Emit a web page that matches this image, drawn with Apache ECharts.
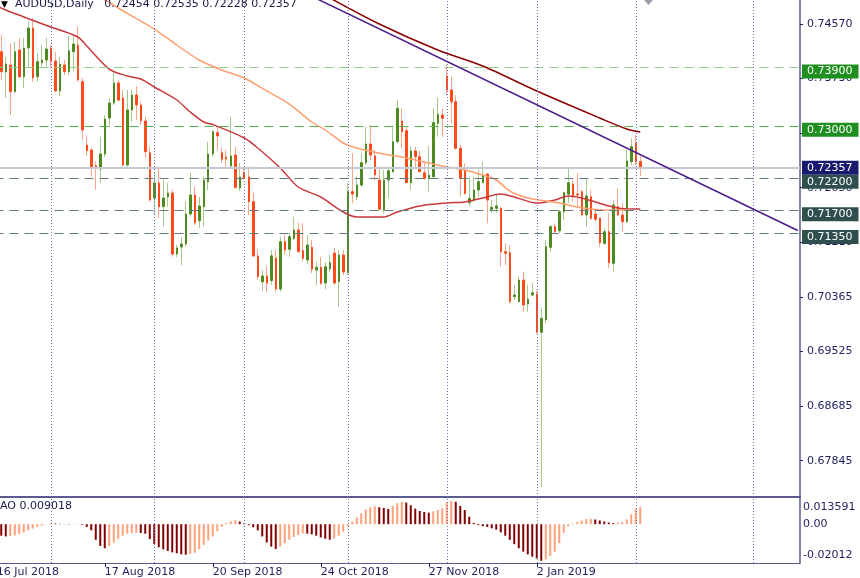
<!DOCTYPE html>
<html><head><meta charset="utf-8">
<script src="https://cdn.jsdelivr.net/npm/echarts@6/dist/echarts.min.js"></script>
<style>html,body{margin:0;padding:0;background:#fff;}#c{width:860px;height:578px;}</style>
</head><body><div id="c"></div>
<script>
// ---- data ----
const dates = [
'2018-07-16','2018-07-17','2018-07-18','2018-07-19','2018-07-20','2018-07-23','2018-07-24','2018-07-25','2018-07-26','2018-07-27',
'2018-07-30','2018-07-31','2018-08-01','2018-08-02','2018-08-03','2018-08-06','2018-08-07','2018-08-08','2018-08-09','2018-08-10',
'2018-08-13','2018-08-14','2018-08-15','2018-08-16','2018-08-17','2018-08-20','2018-08-21','2018-08-22','2018-08-23','2018-08-24',
'2018-08-27','2018-08-28','2018-08-29','2018-08-30','2018-08-31','2018-09-03','2018-09-04','2018-09-05','2018-09-06','2018-09-07',
'2018-09-10','2018-09-11','2018-09-12','2018-09-13','2018-09-14','2018-09-17','2018-09-18','2018-09-19','2018-09-20','2018-09-21',
'2018-09-24','2018-09-25','2018-09-26','2018-09-27','2018-09-28','2018-10-01','2018-10-02','2018-10-03','2018-10-04','2018-10-05',
'2018-10-08','2018-10-09','2018-10-10','2018-10-11','2018-10-12','2018-10-15','2018-10-16','2018-10-17','2018-10-18','2018-10-19',
'2018-10-22','2018-10-23','2018-10-24','2018-10-25','2018-10-26','2018-10-29','2018-10-30','2018-10-31','2018-11-01','2018-11-02',
'2018-11-05','2018-11-06','2018-11-07','2018-11-08','2018-11-09','2018-11-12','2018-11-13','2018-11-14','2018-11-15','2018-11-16',
'2018-11-19','2018-11-20','2018-11-21','2018-11-22','2018-11-23','2018-11-26','2018-11-27','2018-11-28','2018-11-29','2018-11-30',
'2018-12-03','2018-12-04','2018-12-05','2018-12-06','2018-12-07','2018-12-10','2018-12-11','2018-12-12','2018-12-13','2018-12-14',
'2018-12-17','2018-12-18','2018-12-19','2018-12-20','2018-12-21','2018-12-24','2018-12-26','2018-12-27','2018-12-28','2018-12-31',
'2019-01-02','2019-01-03','2019-01-04','2019-01-07','2019-01-08','2019-01-09','2019-01-10','2019-01-11','2019-01-14','2019-01-15',
'2019-01-16','2019-01-17','2019-01-18','2019-01-21','2019-01-22','2019-01-23','2019-01-24','2019-01-25','2019-01-28','2019-01-29',
'2019-01-30','2019-01-31','2019-02-01','2019-02-04'];

const openPrices = [
0.7408,0.74144,0.73831,0.73939,0.73528,0.7417,0.73759,0.74201,0.74509,0.73759,
0.73974,0.74016,0.74201,0.74001,0.73539,0.73939,0.73836,0.74144,0.74247,0.73682,
0.72707,0.7263,0.72388,0.72337,0.72568,0.73123,0.73354,0.73662,0.73431,0.72399,
0.73246,0.73477,0.73323,0.73077,0.72588,0.71891,0.72122,0.71757,0.71906,0.71968,
0.71028,0.71136,0.71182,0.71644,0.71937,0.71541,0.71757,0.72142,0.72568,0.72896,
0.72588,0.72522,0.72384,0.72553,0.72045,0.7228,0.72214,0.71834,0.70998,0.7060,
0.7069,0.7062,0.70967,0.70489,0.71218,0.71101,0.7127,0.71398,0.71079,0.70936,
0.71132,0.70782,0.70824,0.70582,0.70797,0.71044,0.70602,0.71013,0.7074,0.71988,
0.71911,0.72091,0.72434,0.72722,0.72538,0.72168,0.71706,0.72168,0.72296,0.72758,
0.73077,0.72927,0.72126,0.72615,0.72527,0.7228,0.72194,0.72219,0.73041,0.73169,
0.7377,0.73554,0.73374,0.72656,0.72322,0.71818,0.7186,0.72014,0.72126,0.7226,
0.71717,0.71732,0.71732,0.71064,0.71048,0.70371,0.70294,0.70628,0.70258,0.70397,
0.70412,0.69823,0.70012,0.71132,0.71449,0.71387,0.7168,0.7195,0.72106,0.71952,
0.71988,0.71629,0.71911,0.71644,0.71578,0.71193,0.71372,0.70885,0.71757,0.71629,
0.71526,0.7245,0.72733,0.72454];

const closePrices = [
0.7418,0.73836,0.73954,0.73528,0.74144,0.73759,0.74201,0.74509,0.73739,0.7399,
0.74016,0.74185,0.74001,0.73539,0.73954,0.73836,0.74159,0.74262,0.73708,0.72938,
0.72619,0.72373,0.72364,0.72568,0.73107,0.73354,0.73662,0.734,0.72399,0.73246,
0.73477,0.73323,0.73081,0.72604,0.7186,0.72122,0.71757,0.71891,0.71968,0.71028,
0.71121,0.71182,0.71644,0.71937,0.7151,0.71768,0.72168,0.72568,0.72912,0.72846,
0.72487,0.72491,0.72538,0.72049,0.72214,0.72199,0.71834,0.70998,0.70679,0.7069,
0.7058,0.7100,0.70489,0.71218,0.7109,0.71295,0.71398,0.71064,0.70962,0.71167,
0.70793,0.70824,0.70577,0.70833,0.70894,0.70582,0.71013,0.70751,0.71988,0.71952,
0.72091,0.72434,0.72722,0.72553,0.72245,0.71717,0.72168,0.72311,0.72758,0.73272,
0.72912,0.72126,0.72615,0.72527,0.72296,0.72194,0.72245,0.7305,0.7318,0.73118,
0.73554,0.73374,0.72656,0.72194,0.71963,0.71886,0.72014,0.72142,0.72245,0.7186,
0.71748,0.71768,0.71064,0.71039,0.70294,0.70397,0.70628,0.70243,0.70331,0.70432,
0.69823,0.70038,0.71141,0.71449,0.71372,0.7168,0.71972,0.72126,0.71922,0.71937,
0.71629,0.71922,0.71578,0.71563,0.71202,0.71372,0.70894,0.71783,0.71629,0.71526,
0.72461,0.72681,0.7245,0.72357];

const lowPrices = [
0.7398,0.73708,0.73431,0.73169,0.73508,0.73739,0.73585,0.73893,0.73682,0.73682,
0.7392,0.73913,0.73893,0.73523,0.73462,0.73785,0.73785,0.73836,0.73682,0.72784,
0.72538,0.72219,0.72014,0.72122,0.72527,0.72989,0.73323,0.73374,0.72373,0.72373,
0.73066,0.73092,0.73015,0.72507,0.71834,0.71629,0.71583,0.71449,0.71757,0.70987,
0.7098,0.70859,0.71141,0.71603,0.71475,0.71429,0.71449,0.72014,0.72527,0.7263,
0.7243,0.72373,0.72368,0.72045,0.71997,0.72168,0.71629,0.70987,0.70628,0.70463,
0.7044,0.7055,0.70443,0.70448,0.71013,0.70987,0.71244,0.71048,0.7091,0.70874,
0.70736,0.70551,0.70551,0.70489,0.70751,0.70551,0.70217,0.70705,0.70705,0.71809,
0.7186,0.7206,0.72399,0.72476,0.72168,0.71706,0.71655,0.71891,0.7228,0.72738,
0.72661,0.72122,0.72014,0.72348,0.72291,0.72168,0.71988,0.72199,0.72835,0.72835,
0.73477,0.73041,0.7263,0.71911,0.71937,0.71757,0.71834,0.71911,0.72122,0.71501,
0.7166,0.7166,0.70833,0.70859,0.70269,0.7032,0.7029,0.70138,0.70138,0.70382,
0.69796,0.6744,0.69961,0.71064,0.71352,0.71347,0.71552,0.71814,0.71834,0.71757,
0.71603,0.71449,0.71552,0.71526,0.71141,0.71167,0.70808,0.70756,0.71614,0.71372,
0.71501,0.72399,0.72399,0.72228];

const highPrices = [
0.7432,0.74401,0.74062,0.74278,0.74298,0.74355,0.74355,0.74606,0.74663,0.74124,
0.74247,0.74355,0.74247,0.74144,0.74067,0.74016,0.74386,0.74401,0.74529,0.73739,
0.72835,0.7266,0.7245,0.72835,0.73169,0.73431,0.73816,0.73708,0.73554,0.73554,
0.73554,0.73616,0.73374,0.73143,0.72681,0.72276,0.72353,0.72168,0.72122,0.72014,
0.71167,0.7129,0.71834,0.7228,0.72065,0.71911,0.72219,0.72758,0.72938,0.72989,
0.72661,0.7263,0.73143,0.72676,0.7243,0.72368,0.72373,0.71968,0.71105,0.70782,
0.7084,0.7109,0.7109,0.71295,0.71321,0.7135,0.71603,0.71506,0.71506,0.71321,
0.71244,0.7091,0.70987,0.70905,0.71013,0.71121,0.7109,0.7109,0.72122,0.72579,
0.72219,0.72588,0.72989,0.73015,0.7263,0.72373,0.72322,0.72373,0.7298,0.734,
0.73272,0.72989,0.72681,0.72681,0.72619,0.7243,0.72692,0.73272,0.73442,0.73272,
0.73939,0.73759,0.73477,0.72707,0.72425,0.72219,0.72219,0.72322,0.7245,0.72271,
0.7186,0.71937,0.71757,0.71193,0.71167,0.70551,0.70679,0.70756,0.70551,0.70577,
0.70474,0.70197,0.71244,0.71475,0.71501,0.71706,0.71988,0.72348,0.72168,0.72271,
0.72014,0.72179,0.72014,0.71706,0.71594,0.71424,0.71655,0.71849,0.7204,0.71809,
0.7263,0.7281,0.72861,0.72535];

const aoValues = [
-0.00545,-0.00597,-0.00633,-0.00615,-0.0058,-0.0051,-0.00422,-0.00316,-0.00228,-0.00141,
-0.0007,0.00002,0.00053,0.00035,0.00018,-0.00005,-0.00018,-0.00008,0.00018,-0.00035,
-0.00141,-0.00316,-0.00808,-0.01124,-0.01247,-0.01124,-0.00949,-0.00773,-0.00597,-0.00492,
-0.00457,-0.00439,-0.00457,-0.00492,-0.00773,-0.01019,-0.01195,-0.013,-0.01388,-0.01458,
-0.01511,-0.01564,-0.01581,-0.01546,-0.01476,-0.013,-0.01072,-0.00843,-0.00633,-0.00369,
-0.00141,0.0007,0.00158,0.00211,0.00141,0.00053,-0.00053,-0.00158,-0.00316,-0.00633,
-0.00949,-0.0116,-0.01283,-0.0116,-0.00984,-0.00808,-0.00668,-0.00562,-0.00474,-0.00492,
-0.00527,-0.00597,-0.00685,-0.00756,-0.00808,-0.00738,-0.00597,-0.00387,-0.00105,0.00141,
0.00351,0.00562,0.00773,0.00879,0.00931,0.00879,0.00843,0.00791,0.00949,0.01089,
0.0116,0.01124,0.00984,0.00808,0.00685,0.00633,0.00597,0.00668,0.00738,0.00826,
0.01124,0.01195,0.0116,0.00949,0.00738,0.00387,0.0007,-0.00053,-0.00105,-0.00141,
-0.00211,-0.00281,-0.00422,-0.00597,-0.00808,-0.01037,-0.01247,-0.01423,-0.01564,-0.01687,
-0.01775,-0.01898,-0.01827,-0.01652,-0.01423,-0.00984,-0.00457,-0.00105,0.00035,0.00123,
0.00193,0.00264,0.00281,0.00246,0.00193,0.00141,0.00088,0.00053,0.0007,0.00105,
0.00246,0.0051,0.00808,0.009018];

// moving averages, read at sample bars: [bar index, price]
const maRed = [[0,0.74848],[2,0.74786],[12,0.74524],[18,0.7437],[20,0.74232],[25,0.73877],[29,0.7377],[32,0.73723],[35,0.736],[40,0.734],[43,0.73215],[46,0.73061],[48,0.73023],[55,0.72815],[58,0.72661],[63,0.72353],[67,0.7206],[72,0.71906],[77,0.71675],[80,0.71598],[86,0.71598],[89,0.71675],[94,0.71768],[100,0.71814],[104,0.7183],[108,0.71891],[112,0.71952],[115,0.71906],[120,0.71814],[124,0.7186],[127,0.71922],[130,0.71891],[133,0.7183],[137,0.71752],[140,0.71721],[143,0.71721]];
const maOrange = [[20,0.75048],[24,0.7494],[27,0.74817],[30,0.74694],[35,0.74493],[40,0.74247],[45,0.74016],[50,0.73862],[55,0.73739],[60,0.73539],[65,0.73338],[70,0.73061],[73,0.72938],[77,0.72738],[80,0.72661],[86,0.72568],[91,0.72507],[96,0.7243],[100,0.72368],[104,0.72322],[108,0.72245],[111,0.72168],[114,0.71999],[118,0.71891],[122,0.71845],[125,0.71814],[129,0.71752],[133,0.71714],[138,0.71706],[141,0.71706]];
const maMaroon = [[72,0.75048],[85,0.7457],[98,0.7417],[108,0.73924],[120,0.73539],[134,0.73123],[140,0.72953],[143,0.72907]];
const trendLine = [[69,0.7503],[178,0.7139]];

const levelGreen = [0.7390, 0.7300];
const levelGray = [0.7220, 0.7170, 0.7135];
const lastPrice = 0.72357;
const tagDrop = 0.0006; // price tags sit a little below their line, as in the picture
const priceTicks = [0.7457, 0.7373, 0.7289, 0.7205, 0.7121, 0.70365, 0.69525, 0.68685, 0.67845];
const aoTicks = [0.013591, 0, -0.02012];
const aoTickText = ['0.013591', '0.00', '-0.02012'];
const separatorIdx = [12, 35, 55, 78, 100, 120, 142, 168];
const dateLabelIdx = [0, 24, 48, 72, 96, 120];
const futureSlots = 35;
const titleText = 'AUDUSD,Daily   0.72454 0.72535 0.72228 0.72357';
const aoTitle = 'AO 0.009018';

// ---- build ----
const MONTHS = ['Jan','Feb','Mar','Apr','May','Jun','Jul','Aug','Sep','Oct','Nov','Dec'];
const categories = dates.concat(Array.from({length: futureSlots}, (_, k) => 'f' + k));
const FONT = 'DejaVu Sans';
const NAVY = '#1f1f5c';
const AXIS = '#5b5b8f';

const wickData = dates.map((_, i) => [openPrices[i], closePrices[i], lowPrices[i], highPrices[i]]);
const bodyData = dates.map((_, i) => [openPrices[i], closePrices[i],
  Math.min(openPrices[i], closePrices[i]), Math.max(openPrices[i], closePrices[i])]);
const aoData = aoValues.map((v, i) => ({
  value: v,
  itemStyle: { color: (i > 0 && v > aoValues[i - 1]) ? '#FFA07A' : '#800000' }
}));

function levelSeries(v, bg, lineColor, type, width, drop) {
  return {
    name: 'level' + v, type: 'line', xAxisIndex: 0, yAxisIndex: 0, data: [], z: 1,
    markLine: {
      silent: true, symbol: ['none', 'none'], animation: false, precision: 5,
      data: [
        { yAxis: v, lineStyle: { color: lineColor, type: type, width: width }, label: { show: false } },
        { yAxis: v - drop, lineStyle: { color: 'rgba(255,255,255,0)', width: 1 },
          label: {
            show: true, position: 'end', distance: 2,
            formatter: v.toFixed(5), color: '#ffffff', backgroundColor: bg,
            padding: [2, 6, 1, 5], fontSize: 11, fontFamily: FONT
          } }
      ]
    }
  };
}
const levelSeriesList = []
  .concat(levelGreen.map((v, k) => levelSeries(v, '#1f8f1f', k === 0 ? '#8fcd86' : '#55b04f', [9, 6], 1, tagDrop)))
  .concat([levelSeries(lastPrice, '#191970', '#c3cad3', 'solid', 2, 0)])
  .concat(levelGray.map(v => levelSeries(v, '#2f4f4f', '#5f7b7b', [9, 6], 1, tagDrop)));
const sepLines = separatorIdx.map(i => ({ xAxis: i }));

const chart = echarts.init(document.getElementById('c'), null, { renderer: 'canvas' });
chart.setOption({
  animation: false,
  backgroundColor: '#ffffff',
  textStyle: { fontFamily: FONT },
  title: [
    { text: '{tri|▼}  ' + titleText, left: 1, top: -1, padding: 0,
      textStyle: { fontSize: 11, fontWeight: 'normal', color: '#1a1a44', fontFamily: FONT,
        rich: { tri: { fontSize: 9, color: '#000000', fontFamily: FONT } } } },
    { text: aoTitle, left: 0, top: 501, padding: 0,
      textStyle: { fontSize: 11, fontWeight: 'normal', color: '#1a1a44', fontFamily: FONT } }
  ],
  grid: [
    { left: -5.5, right: 60, top: 0, height: 497, show: false, containLabel: false, outerBoundsMode: 'none' },
    { left: -5.5, right: 60, top: 498, height: 65, show: false, containLabel: false, outerBoundsMode: 'none' }
  ],
  xAxis: [
    { type: 'category', gridIndex: 0, data: categories, boundaryGap: true,
      axisLine: { show: true, onZero: false, lineStyle: { color: AXIS, width: 2 } },
      axisTick: { show: false }, axisLabel: { show: false }, splitLine: { show: false } },
    { type: 'category', gridIndex: 1, data: categories, boundaryGap: true,
      axisLine: { show: true, onZero: false, lineStyle: { color: AXIS, width: 1 } },
      axisTick: { show: true, alignWithLabel: true, length: 4,
        interval: (idx) => dateLabelIdx.includes(idx), lineStyle: { color: NAVY } },
      axisLabel: { show: true, interval: (idx) => dateLabelIdx.includes(idx),
        align: 'left', margin: 4, fontSize: 11, color: NAVY, fontFamily: FONT,
        formatter: (val) => { const p = val.split('-'); return (+p[2]) + ' ' + MONTHS[+p[1] - 1] + ' ' + p[0]; } },
      splitLine: { show: false } }
  ],
  yAxis: [
    { type: 'value', gridIndex: 0, position: 'right', min: 0.672862, max: 0.7494,
      axisLine: { show: true, lineStyle: { color: AXIS, width: 1.5 } },
      axisTick: { show: true, length: 3, customValues: priceTicks, lineStyle: { color: NAVY } },
      axisLabel: { show: true, customValues: priceTicks, margin: 7, fontSize: 11, color: NAVY,
        fontFamily: FONT, formatter: (v) => v.toFixed(5) },
      splitLine: { show: false } },
    { type: 'value', gridIndex: 1, position: 'right', min: -0.02012, max: 0.013591,
      axisLine: { show: true, lineStyle: { color: AXIS, width: 1.5 } },
      axisTick: { show: false },
      axisLabel: { show: true, customValues: aoTicks, margin: 3, fontSize: 11, color: NAVY, fontFamily: FONT,
        formatter: (v) => {
          const k = aoTicks.indexOf(v);
          const t = k >= 0 ? aoTickText[k] : '';
          return k === 0 ? '{t|' + t + '}' : (k === 2 ? '{b|' + t + '}' : t);
        },
        rich: {
          t: { padding: [18, 0, 0, 0], fontSize: 11, color: NAVY, fontFamily: FONT },
          b: { padding: [0, 0, 16, 0], fontSize: 11, color: NAVY, fontFamily: FONT }
        } },
      splitLine: { show: false } }
  ],
  series: levelSeriesList.concat([
    { name: 'seps', type: 'line', xAxisIndex: 0, yAxisIndex: 0, data: [], z: 1,
      markLine: { silent: true, symbol: ['none', 'none'], animation: false,
        label: { show: false }, lineStyle: { color: '#6f6fb5', type: [1, 2], width: 1 }, data: sepLines } },
    { name: 'wicks', type: 'candlestick', xAxisIndex: 0, yAxisIndex: 0, data: wickData,
      barWidth: 1, z: 2,
      itemStyle: { color: '#a6c98e', color0: '#ffa488', borderColor: '#a6c98e', borderColor0: '#ffa488', borderWidth: 1 } },
    { name: 'bodies', type: 'candlestick', xAxisIndex: 0, yAxisIndex: 0, data: bodyData,
      barWidth: 2, z: 3,
      itemStyle: { color: '#4e8a1f', color0: '#ff4a1c', borderColor: '#4e8a1f', borderColor0: '#ff4a1c', borderWidth: 1 } },
    { name: 'maRed', type: 'line', xAxisIndex: 0, yAxisIndex: 0, data: maRed, showSymbol: false,
      smooth: 0.3, z: 4, lineStyle: { color: '#c8383c', width: 1.5 } },
    { name: 'maOrange', type: 'line', xAxisIndex: 0, yAxisIndex: 0, data: maOrange, showSymbol: false,
      smooth: 0.3, z: 4, lineStyle: { color: '#ff9f6e', width: 1.5 } },
    { name: 'maMaroon', type: 'line', xAxisIndex: 0, yAxisIndex: 0, data: maMaroon, showSymbol: false,
      smooth: 0.3, z: 4, lineStyle: { color: '#8b0000', width: 1.5 } },
    { name: 'trend', type: 'line', xAxisIndex: 0, yAxisIndex: 0, data: trendLine, showSymbol: false,
      z: 5, lineStyle: { color: '#4b1a8c', width: 1.5 } },
    { name: 'AO', type: 'bar', xAxisIndex: 1, yAxisIndex: 1, data: aoData, barWidth: 2, z: 3,
      markLine: { silent: true, symbol: ['none', 'none'], animation: false,
        label: { show: false }, lineStyle: { color: '#6f6fb5', type: [1, 2], width: 1 }, data: sepLines } }
  ]),
  graphic: [
    { type: 'polygon', shape: { points: [[644, 0], [653, 0], [648.5, 5]] }, style: { fill: '#9b9bab' }, silent: true }
  ]
});
</script>
</body></html>
